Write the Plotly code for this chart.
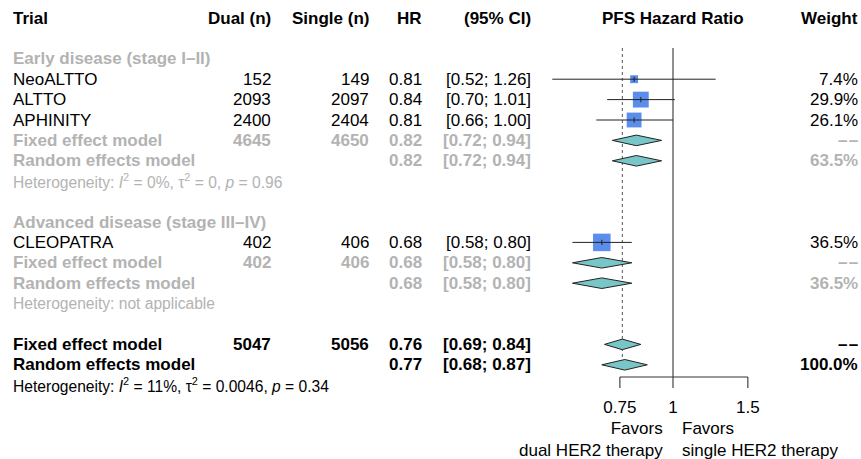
import numpy as np
import plotly.graph_objects as go

# ---------------- data ----------------
studies = ["NeoALTTO", "ALTTO", "APHINITY", "CLEOPATRA"]
study_rows = [3, 4, 5, 11]
dual_n = [152, 2093, 2400, 402]
single_n = [149, 2097, 2404, 406]
hr = [0.81, 0.84, 0.81, 0.68]
ci_lo = [0.52, 0.70, 0.66, 0.58]
ci_hi = [1.26, 1.01, 1.00, 0.80]
weight = [7.4, 29.9, 26.1, 36.5]

summary_labels = ["Fixed effect model", "Random effects model"] * 3
summary_rows = [6, 7, 12, 13, 16, 17]
summary_dual = [4645, None, 402, None, 5047, None]
summary_single = [4650, None, 406, None, 5056, None]
summary_hr = [0.82, 0.82, 0.68, 0.68, 0.76, 0.77]
summary_lo = [0.72, 0.72, 0.58, 0.58, 0.69, 0.68]
summary_hi = [0.94, 0.94, 0.80, 0.80, 0.84, 0.87]
summary_weight = [None, 63.5, None, 36.5, None, 100.0]
summary_overall = [False, False, False, False, True, True]

subgroup_labels = ["Early disease (stage I–II)", "Advanced disease (stage III–IV)"]
subgroup_rows = [2, 10]

het_texts = [
    "Heterogeneity: <i>I</i><sup>2</sup> = 0%, τ<sup>2</sup> = 0, <i>p</i> = 0.96",
    "Heterogeneity: not applicable",
    "Heterogeneity: <i>I</i><sup>2</sup> = 11%, τ<sup>2</sup> = 0.0046, <i>p</i> = 0.34",
]
het_rows = [8, 14, 18]
het_overall = [False, False, True]

headers = ["Trial", "Dual (n)", "Single (n)", "HR", "(95% CI)", "PFS Hazard Ratio", "Weight"]
tick_vals = [0.75, 1, 1.5]
tick_labels = ["0.75", "1", "1.5"]
favors_left = "Favors<br>dual HER2 therapy"
favors_right = "Favors<br>single HER2 therapy"
ref_value = 1

# ---------------- style ----------------
W, H = 861, 459
FONT = "Liberation Sans, Arial, Helvetica, sans-serif"
FS = 17
FS_HET = 15.6
GRAY = "#b3b3b3"
BLACK = "#000000"
SQ_COL = "#5B8DEC"
DIA_COL = "#78C6C8"

col_x = {"trial": 12.5, "dual": 271, "single": 369, "hr": 422, "ci": 531,
         "plot": 673, "weight": 858}

row0_px, row_h = 18, 20.4
y_top = -row0_px / row_h
y_bot = (H - row0_px) / row_h

px_per_log10 = 184.6 * np.log(10)
x_lo = -col_x["plot"] / px_per_log10
x_hi = (W - col_x["plot"]) / px_per_log10

fig = go.Figure()
ann = []


def txt(px, row, s, anchor="left", bold=False, color=BLACK, size=FS):
    if bold:
        s = "<b>" + s + "</b>"
    ann.append(dict(x=px / W, xref="paper", y=row, yref="y", text=s,
                    xanchor=anchor, yanchor="middle", showarrow=False,
                    font=dict(family=FONT, size=size, color=color),
                    borderpad=0, borderwidth=0))


def fmt_ci(l, h):
    return f"[{l:.2f}; {h:.2f}]"


# headers
anchors = ["left", "right", "right", "right", "right", "center", "right"]
keys = ["trial", "dual", "single", "hr", "ci", "plot", "weight"]
for h_, a_, k_ in zip(headers, anchors, keys):
    txt(col_x[k_], 0, h_, a_, bold=True)

# subgroup labels
for lab, r in zip(subgroup_labels, subgroup_rows):
    txt(col_x["trial"], r, lab, bold=True, color=GRAY)

# studies
for i, r in enumerate(study_rows):
    txt(col_x["trial"], r, studies[i])
    txt(col_x["dual"], r, str(dual_n[i]), "right")
    txt(col_x["single"], r, str(single_n[i]), "right")
    txt(col_x["hr"], r, f"{hr[i]:.2f}", "right")
    txt(col_x["ci"], r, fmt_ci(ci_lo[i], ci_hi[i]), "right")
    txt(col_x["weight"], r, f"{weight[i]:.1f}%", "right")

# summaries
for i, r in enumerate(summary_rows):
    c = BLACK if summary_overall[i] else GRAY
    txt(col_x["trial"], r, summary_labels[i], bold=True, color=c)
    if summary_dual[i] is not None:
        txt(col_x["dual"], r, str(summary_dual[i]), "right", True, c)
        txt(col_x["single"], r, str(summary_single[i]), "right", True, c)
    txt(col_x["hr"], r, f"{summary_hr[i]:.2f}", "right", True, c)
    txt(col_x["ci"], r, fmt_ci(summary_lo[i], summary_hi[i]), "right", True, c)
    wtxt = "–\u200a–" if summary_weight[i] is None else f"{summary_weight[i]:.1f}%"
    txt(col_x["weight"], r, wtxt, "right", True, c)

# heterogeneity
for s, r, o in zip(het_texts, het_rows, het_overall):
    txt(col_x["trial"], r, s, color=BLACK if o else GRAY, size=FS_HET)

# ---------------- forest graphics ----------------
line_top = 1.47
axis_row = 17.6
tick_len = 0.54

# fixed-effect dotted line
fe = summary_hr[4]
fig.add_trace(go.Scatter(x=[fe, fe], y=[line_top, 17.35], mode="lines",
                         line=dict(color="#555555", width=1, dash="dot"),
                         hoverinfo="skip"))
# reference line
fig.add_trace(go.Scatter(x=[ref_value, ref_value], y=[line_top, axis_row], mode="lines",
                         line=dict(color="#333333", width=1.1), hoverinfo="skip"))

# squares
sizes = [2.9 * np.sqrt(w) for w in weight]
fig.add_trace(go.Scatter(x=hr, y=study_rows, mode="markers",
                         marker=dict(symbol="square", size=sizes, color=SQ_COL,
                                     opacity=1, line=dict(color=SQ_COL, width=0)),
                         hoverinfo="skip"))
# CI lines and estimate ticks
for i, r in enumerate(study_rows):
    fig.add_trace(go.Scatter(x=[ci_lo[i], ci_hi[i]], y=[r, r], mode="lines",
                             line=dict(color="#222222", width=1), hoverinfo="skip"))
    fig.add_trace(go.Scatter(x=[hr[i], hr[i]], y=[r - 0.13, r + 0.13], mode="lines",
                             line=dict(color="#222222", width=1), hoverinfo="skip"))

# diamonds
dh = 0.26
for i, r in enumerate(summary_rows):
    fig.add_trace(go.Scatter(
        x=[summary_lo[i], summary_hr[i], summary_hi[i], summary_hr[i], summary_lo[i]],
        y=[r, r - dh, r, r + dh, r], mode="lines", fill="toself",
        fillcolor=DIA_COL, line=dict(color="#222222", width=1), hoverinfo="skip"))

# axis
fig.add_trace(go.Scatter(x=[tick_vals[0], tick_vals[-1]], y=[axis_row, axis_row],
                         mode="lines", line=dict(color="#333333", width=1.1),
                         hoverinfo="skip"))
for t in tick_vals:
    fig.add_trace(go.Scatter(x=[t, t], y=[axis_row, axis_row + tick_len], mode="lines",
                             line=dict(color="#333333", width=1.1), hoverinfo="skip"))
fig.add_trace(go.Scatter(x=tick_vals, y=[19.15] * len(tick_vals), mode="text",
                         text=tick_labels, textposition="middle center",
                         textfont=dict(family=FONT, size=FS, color=BLACK),
                         hoverinfo="skip"))

ann.append(dict(x=(col_x["plot"] - 10) / W, xref="paper", y=19.65, yref="y",
                text=favors_left, xanchor="right", yanchor="top", align="right",
                showarrow=False, font=dict(family=FONT, size=FS, color=BLACK),
                borderpad=0, borderwidth=0))
ann.append(dict(x=(col_x["plot"] + 9) / W, xref="paper", y=19.65, yref="y",
                text=favors_right, xanchor="left", yanchor="top", align="left",
                showarrow=False, font=dict(family=FONT, size=FS, color=BLACK),
                borderpad=0, borderwidth=0))

fig.update_layout(
    width=W, height=H, margin=dict(l=0, r=0, t=0, b=0),
    paper_bgcolor="white", plot_bgcolor="white", showlegend=False,
    annotations=ann,
    xaxis=dict(type="log", range=[x_lo, x_hi], visible=False, fixedrange=True),
    yaxis=dict(range=[y_bot, y_top], visible=False, fixedrange=True),
)

fig.write_html("out.html", config={"displayModeBar": False},
               post_script="document.body.style.margin='0px';document.body.style.overflow='hidden';")
